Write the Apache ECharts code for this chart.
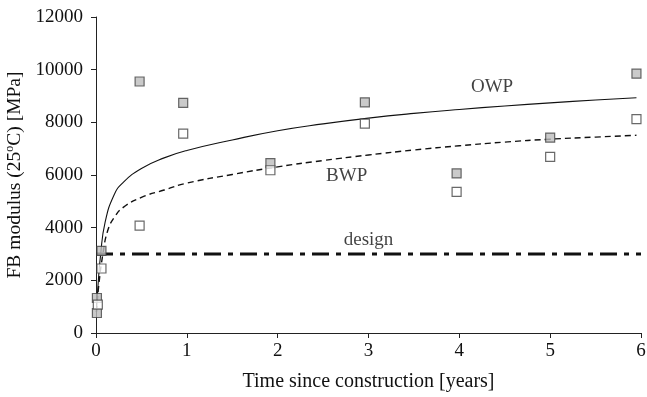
<!DOCTYPE html>
<html><head><meta charset="utf-8">
<script src="https://cdn.jsdelivr.net/npm/echarts@6/dist/echarts.min.js"></script>
<style>html,body{margin:0;padding:0;background:#fff}#c{width:647px;height:397px}</style>
</head><body><div id="c"></div>
<script>
// Measured FB modulus, OWP (grey squares)
const owpMeasured = [[0.06,3120],[0.01,1330],[0.01,760],[0.48,9550],[0.96,8740],[1.92,6450],[2.96,8760],[3.97,6060],[5.0,7420],[5.95,9846]];
// Measured FB modulus, BWP (white squares)
const bwpMeasured = [[0.06,2450],[0.02,1080],[0.48,4080],[0.96,7570],[1.92,6180],[2.96,7950],[3.97,5360],[5.0,6685],[5.95,8125]];
// Fitted OWP curve
const owpCurve = [[0.005,800],[0.02,1700],[0.05,2950],[0.1,4200],[0.2,5250],[0.3,5720],[0.5,6250],[0.75,6650],[1,6930],[1.5,7330],[2,7680],[2.5,7940],[3,8160],[3.5,8340],[4,8490],[4.5,8620],[5,8740],[5.5,8850],[5.95,8936]];
// Fitted BWP curve
const bwpCurve = [[0.005,800],[0.03,1800],[0.077,3020],[0.13,3900],[0.2,4380],[0.3,4770],[0.5,5150],[0.75,5430],[1,5690],[1.5,6020],[2,6310],[2.5,6550],[3,6760],[3.5,6950],[4,7110],[4.5,7250],[5,7360],[5.5,7440],[5.95,7507]];
// Design value
const designLine = [[0,3000],[6,3000]];
// Text labels [x, y, text]
const textLabels = [[4.36,9340,'OWP'],[2.76,5950,'BWP'],[3.0,3530,'design']];
const xTicks = [0,1,2,3,4,5,6];
const yTicks = [0,2000,4000,6000,8000,10000,12000];

const font = 'Liberation Serif';
const chart = echarts.init(document.getElementById('c'));
chart.setOption({
  animation:false,
  backgroundColor:'#fff',
  grid:{left:96,right:6,top:17,bottom:64,containLabel:false,outerBoundsMode:'none'},
  xAxis:{type:'value',min:xTicks[0],max:xTicks[xTicks.length-1],interval:1,
    name:'Time since construction [years]',nameLocation:'middle',nameGap:39,
    nameTextStyle:{fontFamily:font,fontSize:20,color:'#111'},
    axisLine:{lineStyle:{color:'#222',width:1}},
    axisTick:{show:true,length:5,lineStyle:{color:'#222'}},
    axisLabel:{fontFamily:font,fontSize:19,color:'#111',margin:9,formatter:v=>String(v)},
    splitLine:{show:false}},
  yAxis:{type:'value',min:yTicks[0],max:yTicks[yTicks.length-1],interval:2000,
    name:'{a|FB modulus (25}{s|o}{a|C) [MPa]}',nameLocation:'middle',nameGap:67,nameRotate:90,
    nameTextStyle:{rich:{a:{fontFamily:font,fontSize:19.5,color:'#111'},s:{fontFamily:font,fontSize:12,color:'#111',verticalAlign:'top',padding:[0,0,9,0]}}},
    axisLine:{show:true,lineStyle:{color:'#222',width:1}},
    axisTick:{show:true,length:5,lineStyle:{color:'#222'}},
    axisLabel:{fontFamily:font,fontSize:19,color:'#111',margin:13,formatter:v=>String(v)},
    splitLine:{show:false}},
  series:[
    {type:'line',data:designLine,showSymbol:false,symbol:'none',z:2,
      lineStyle:{color:'#111',width:3,type:[17,7,5,7]}},
    {type:'line',data:owpCurve,smooth:0.5,symbol:'none',z:3,
      lineStyle:{color:'#111',width:1.1}},
    {type:'line',data:bwpCurve,smooth:0.5,symbol:'none',z:3,
      lineStyle:{color:'#111',width:1.4,type:[6,4]}},
    {type:'scatter',data:owpMeasured,symbol:'rect',symbolSize:9,z:4,
      itemStyle:{color:'#bdbdbd',borderColor:'#444',borderWidth:1.2}},
    {type:'scatter',data:bwpMeasured,symbol:'rect',symbolSize:9,z:4,
      itemStyle:{color:'#fff',borderColor:'#444',borderWidth:1.2}},
    {type:'scatter',data:textLabels.map(d=>({value:[d[0],d[1]],name:d[2]})),symbol:'circle',symbolSize:1,z:5,
      itemStyle:{color:'rgba(0,0,0,0)'},
      label:{show:true,position:'inside',formatter:p=>p.name,fontFamily:font,fontSize:19,color:'#111'}}
  ]
});
</script></body></html>
